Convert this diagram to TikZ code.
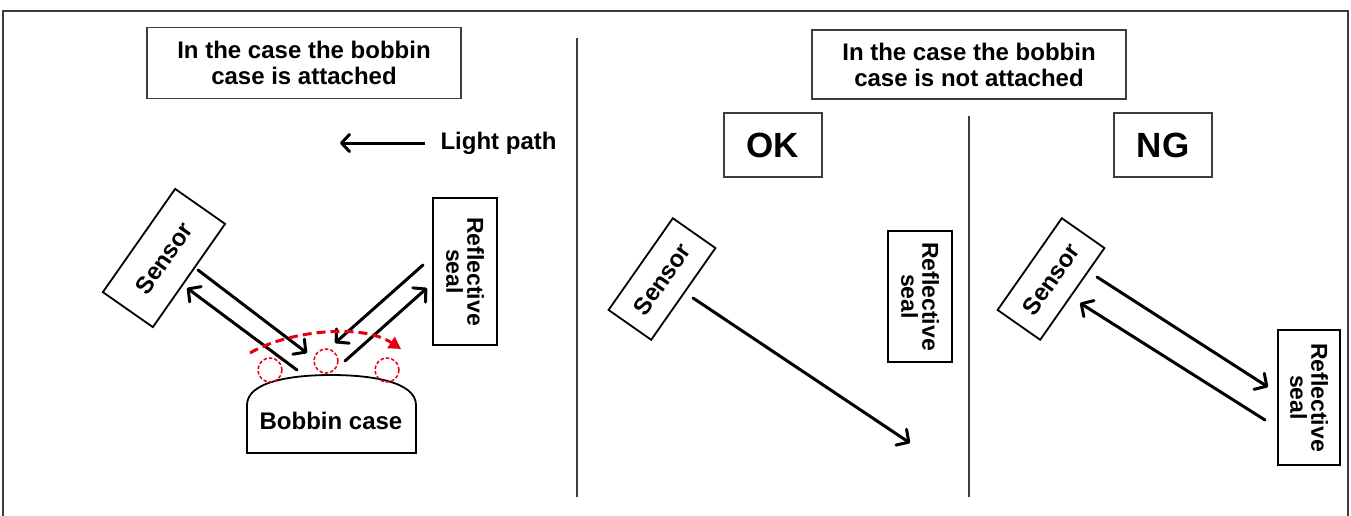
\documentclass[tikz,border=0pt]{standalone}
\usepackage{fontspec}
\setmainfont{Liberation Sans}
\usetikzlibrary{arrows.meta}
\definecolor{sred}{RGB}{228,0,18}
\definecolor{fgray}{RGB}{60,60,60}
\begin{document}
\begin{tikzpicture}[x=1pt,y=-1pt,
  lbl/.style={font=\fontsize{24}{26}\selectfont\bfseries, align=center},
  titlebox/.style={draw=fgray, line width=1.8pt, lbl, inner sep=0pt},
  sensorbox/.style={draw, line width=1.8pt, lbl, inner sep=0pt, rotate=55},
  sealbox/.style={draw, line width=1.8pt, font=\fontsize{23}{21}\selectfont\bfseries, align=center, inner sep=0pt, rotate=-90},
  ray/.style={line width=3pt, line cap=round, -{Straight Barb[length=9pt,width=19pt,round]}},
  divider/.style={line width=1.3pt, fgray}]
\useasboundingbox (0,0) rectangle (1351,515);
% frame
\draw[fgray, line width=1.8pt] (3,520) -- (3,11) -- (1348,11) -- (1348,520);
% dividers
\coordinate (d1t) at (577,38); \coordinate (d1b) at (577,497);
\coordinate (d2t) at (969,116); \coordinate (d2b) at (969,497);
\draw[divider] (d1t) -- (d1b);
\draw[divider] (d2t) -- (d2b);
% titles
\node[titlebox, minimum width=314pt, minimum height=71pt] (t1) at (304,63) {In the case the bobbin\\case is attached};
\node[titlebox, minimum width=314pt, minimum height=69pt] (t2) at (969,64.5) {In the case the bobbin\\case is not attached};
\node[titlebox, font=\fontsize{35}{35}\selectfont\bfseries, minimum width=98pt, minimum height=64pt] (ok) at (773,145) {OK};
\node[titlebox, font=\fontsize{35}{35}\selectfont\bfseries, minimum width=98pt, minimum height=64pt] (ng) at (1163,145) {NG};
% legend
\node[lbl, anchor=west] (lp) at (437,143) {Light path};
\coordinate (lpa) at (425,143);
\coordinate (lpb) at (340,143);
\draw[line width=3pt, -{Straight Barb[length=8pt,width=17pt,round]}] (lpa) -- (lpb);
% ---------- left section ----------
\node[sensorbox, minimum width=126pt, minimum height=61pt] (s1) at (164,258) {Sensor};
\node[sealbox, minimum width=147pt, minimum height=64pt] (r1) at (465,271.5) {Reflective\\seal};
\draw[line width=1.8pt] (247,453) -- (247,405) .. controls (247,382) and (290,375) .. (331,375)
  .. controls (372,375) and (416,382) .. (416,405) -- (416,453) -- cycle;
\node[lbl] (bc) at (331,421) {Bobbin case};
\coordinate (a1s) at (198,270); \coordinate (a1e) at (307,353);
\coordinate (a2s) at (297,370); \coordinate (a2e) at (187,288);
\coordinate (a3s) at (423,265); \coordinate (a3e) at (335,343);
\coordinate (a4s) at (345,361); \coordinate (a4e) at (427,288);
\draw[ray] (a1s) -- (a1e);
\draw[ray] (a2s) -- (a2e);
\draw[ray] (a3s) -- (a3e);
\draw[ray] (a4s) -- (a4e);
% red scattering
\draw[sred, line width=1.5pt, dash pattern=on 3.5pt off 2pt] (270,370) circle (12);
\draw[sred, line width=1.5pt, dash pattern=on 3.5pt off 2pt] (326,361) circle (12);
\draw[sred, line width=1.5pt, dash pattern=on 3.5pt off 2pt] (387,370) circle (12);
\coordinate (rs) at (250,353); \coordinate (re) at (401,349);
\draw[sred, line width=3pt, dash pattern=on 9pt off 5pt, -{Triangle[length=12pt,width=13pt]}]
  (rs) .. controls (285,332) and (360,322) .. (re);
% ---------- OK section ----------
\node[sensorbox, minimum width=112pt, minimum height=52pt] (s2) at (662,279) {Sensor};
\node[sealbox, minimum width=131pt, minimum height=64pt] (r2) at (920,296.5) {Reflective\\seal};
\coordinate (b1s) at (693,298); \coordinate (b1e) at (910,443);
\draw[ray] (b1s) -- (b1e);
% ---------- NG section ----------
\node[sensorbox, minimum width=112pt, minimum height=52pt] (s3) at (1051,279) {Sensor};
\node[sealbox, minimum width=135pt, minimum height=62pt] (r3) at (1309,397.5) {Reflective\\seal};
\coordinate (c1s) at (1097,277); \coordinate (c1e) at (1268,387);
\coordinate (c2s) at (1265,420); \coordinate (c2e) at (1080,303);
\draw[ray] (c1s) -- (c1e);
\draw[ray] (c2s) -- (c2e);
\end{tikzpicture}
\end{document}
